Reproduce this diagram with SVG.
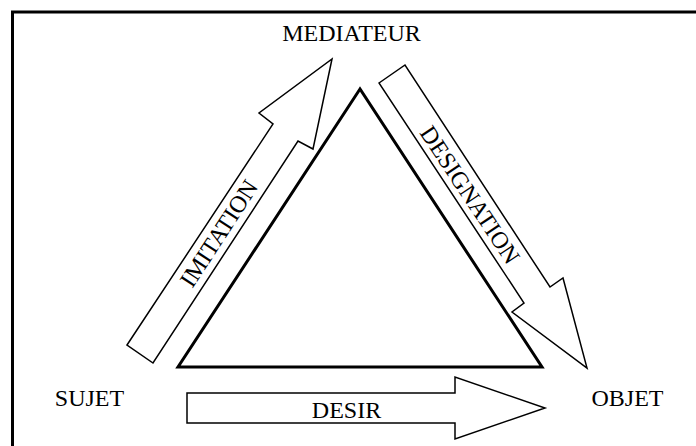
<svg xmlns="http://www.w3.org/2000/svg" width="696" height="446" viewBox="0 0 696 446">
<style>
.lbl{font-family:"Liberation Serif","Times New Roman",serif;font-size:24px;fill:#000}
.arrow{fill:#fff;stroke:#000;stroke-width:1.5;stroke-linejoin:miter}
.tri{fill:#fff;stroke:#000;stroke-width:3;stroke-linejoin:miter}
</style>
<rect x="0" y="0" width="696" height="446" fill="#fff"/>
<path d="M12.5,446 V12 H696" fill="none" stroke="#000" stroke-width="3"/>
<g id="triangle">
<polygon class="tri" points="360,89 178,367 542,367"/>
</g>
<g id="connectors">
<g id="imitation">
<polygon class="arrow" points="127,345 273,124 259,113 332,59 313,149 298,141 153,363"/>
<text class="lbl" text-anchor="middle" transform="translate(219,233.5) rotate(-56.9)" x="0" y="8">IMITATION</text>
</g>
<g id="designation">
<polygon class="arrow" points="379,83 405,65 550,287 563,278 587,368 512,312 524,303"/>
<text class="lbl" text-anchor="middle" transform="translate(470,195) rotate(56.4)" x="0" y="8">DESIGNATION</text>
</g>
<g id="desir">
<polygon class="arrow" points="187,393 455,393 455,377 545,408 455,439 455,423 187,423"/>
<text class="lbl" text-anchor="middle" x="346.5" y="418">DESIR</text>
</g>
</g>
<g id="mediateur"><text class="lbl" text-anchor="middle" x="351.5" y="41">MEDIATEUR</text></g>
<g id="sujet"><text class="lbl" text-anchor="middle" x="89.5" y="406">SUJET</text></g>
<g id="objet"><text class="lbl" text-anchor="middle" x="627.5" y="406">OBJET</text></g>
</svg>
